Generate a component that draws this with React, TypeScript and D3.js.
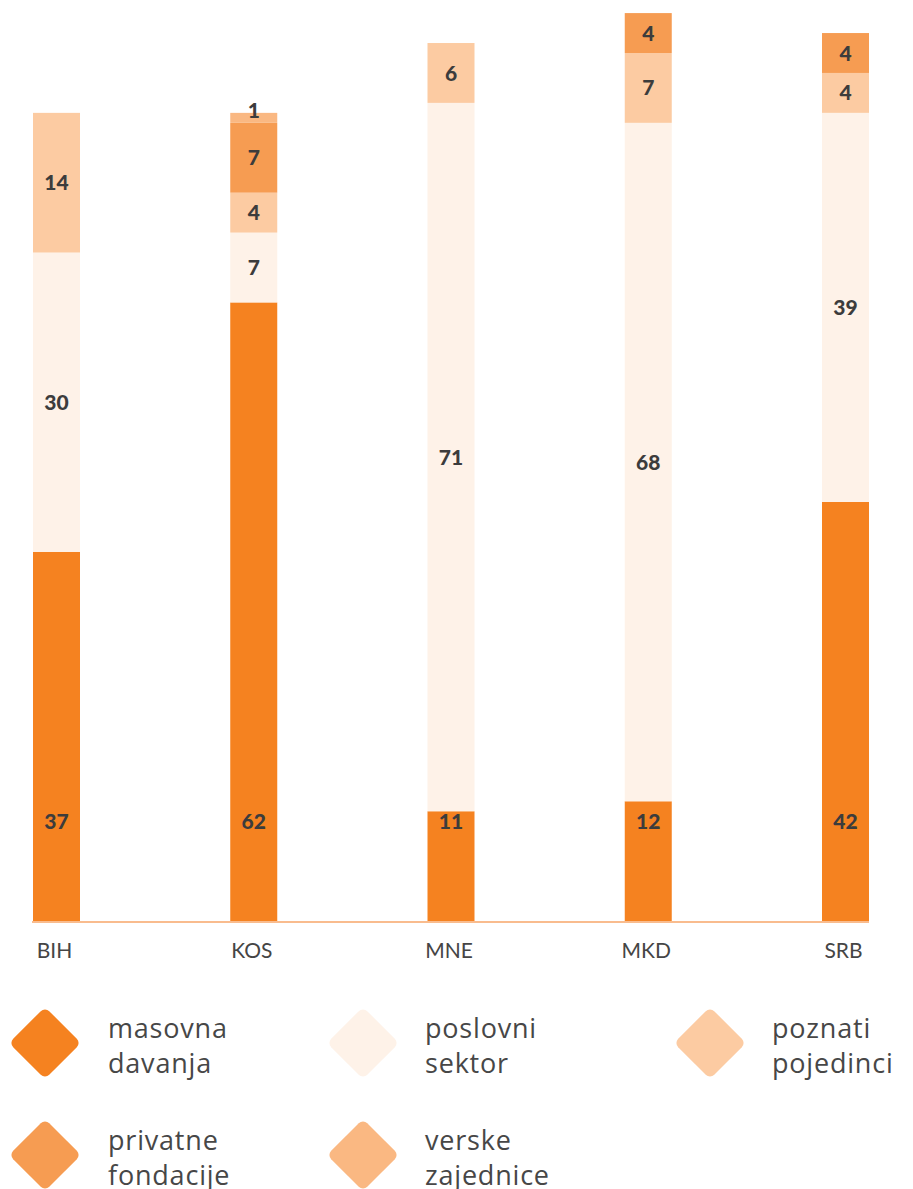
import React from "react";
import * as d3 from "d3";

const categories = ["BIH", "KOS", "MNE", "MKD", "SRB"];
const seriesNames = ["masovna davanja", "poslovni sektor", "poznati pojedinci", "privatne fondacije", "verske zajednice"];
const masovnaDavanja = [37, 62, 11, 12, 42];
const poslovniSektor = [30, 7, 71, 68, 39];
const poznatiPojedinci = [14, 4, 6, 7, 4];
const privatneFondacije = [0, 7, 0, 4, 4];
const verskeZajednice = [0, 1, 0, 0, 0];
const colors = ["#F58220", "#FEF2E8", "#FCCBA2", "#F69C52", "#FAB882"];

const legendLines = [
  ["masovna", "davanja"],
  ["poslovni", "sektor"],
  ["poznati", "pojedinci"],
  ["privatne", "fondacije"],
  ["verske", "zajednice"],
];

export default function App() {
  const W = 913, H = 1189;
  const baseline = 921;
  const x = d3.scalePoint<string>().domain(categories).range([56.5, 845.5]);
  const y = d3.scaleLinear().domain([0, 100]).range([baseline, baseline - 997.7]);
  const barW = 47;
  const rows = categories.map((c, i) => ({
    cat: c,
    s0: masovnaDavanja[i],
    s1: poslovniSektor[i],
    s2: poznatiPojedinci[i],
    s3: privatneFondacije[i],
    s4: verskeZajednice[i],
  }));
  const stack = d3.stack<any>().keys(["s0", "s1", "s2", "s3", "s4"]);
  const series = stack(rows);

  const legendPos = [
    { cx: 45, cy: 1043, tx: 108 },
    { cx: 363, cy: 1043, tx: 425 },
    { cx: 710, cy: 1043, tx: 772 },
    { cx: 45, cy: 1155, tx: 108 },
    { cx: 363, cy: 1155, tx: 425 },
  ];

  return (
    <svg width={W} height={H} style={{ position: "absolute", left: 0, top: 0, background: "#fff" }}>
      {series.map((s, si) =>
        s.map((d, i) => {
          const v = d[1] - d[0];
          if (v <= 0) return null;
          const cx = x(categories[i])!;
          const y0 = y(d[0]);
          const y1 = y(d[1]);
          return (
            <rect key={`${si}-${i}`} x={cx - barW / 2} y={y1} width={barW} height={y0 - y1} fill={colors[si]} />
          );
        })
      )}
      <line x1={32} x2={869} y1={922} y2={922} stroke="#F9BC8E" strokeWidth={2} />
      {series.map((s, si) =>
        s.map((d, i) => {
          const v = d[1] - d[0];
          if (v <= 0) return null;
          const cx = x(categories[i])!;
          let cy = si === 0 ? y(10) : (y(d[0]) + y(d[1])) / 2;
          if (v < 2) cy -= 7;
          return (
            <text
              key={`l-${si}-${i}`}
              x={cx}
              y={cy}
              dy="0.36em"
              textAnchor="middle"
              fontFamily="Lato, 'Open Sans', sans-serif"
              fontWeight={900}
              fontSize={21}
              fill="#3c3c3c"
            >
              {v}
            </text>
          );
        })
      )}
      {categories.map((c) => (
        <text
          key={c}
          x={x(c)! - 2}
          y={958}
          textAnchor="middle"
          fontFamily="Lato, 'Open Sans', sans-serif"
          fontWeight={400}
          fontSize={21}
          fill="#454545"
        >
          {c}
        </text>
      ))}
      {seriesNames.map((n, i) => {
        const p = legendPos[i];
        const side = 51;
        return (
          <g key={n}>
            <rect
              x={-side / 2}
              y={-side / 2}
              width={side}
              height={side}
              rx={6}
              fill={colors[i]}
              transform={`translate(${p.cx},${p.cy}) rotate(45)`}
            />
            <text x={p.tx} y={p.cy - 5} fontFamily="'Open Sans', sans-serif" fontSize={27} letterSpacing={0.8} fill="#474747">
              {legendLines[i][0]}
            </text>
            <text x={p.tx} y={p.cy + 30} fontFamily="'Open Sans', sans-serif" fontSize={27} letterSpacing={0.8} fill="#474747">
              {legendLines[i][1]}
            </text>
          </g>
        );
      })}
    </svg>
  );
}
